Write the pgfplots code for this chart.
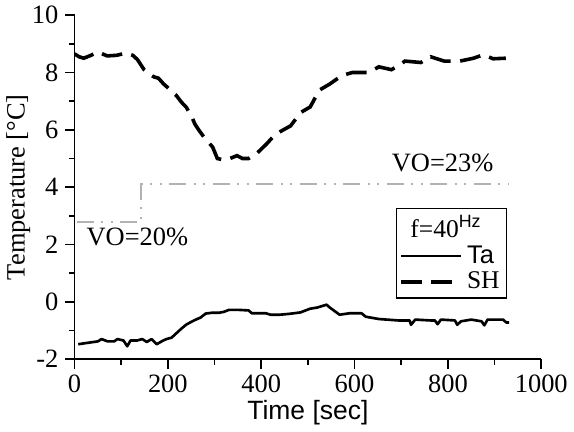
\documentclass[border=0pt]{standalone}
\usepackage{fontspec}
\setmainfont{Liberation Serif}
\setsansfont{Liberation Sans}
\usepackage{pgfplots}
\pgfplotsset{compat=1.18}

\begin{document}
\begin{tikzpicture}
\begin{axis}[
    width=247pt, height=182pt, scale only axis,
    xmin=0, xmax=1000, ymin=-2, ymax=10,
    axis lines=left,
    axis line style={-, line width=0.9pt},
    xtick={0,200,...,1000},
    ytick={-2,0,...,10},
    minor x tick num=1, minor y tick num=1,
    tick align=outside,
    major tick length=5pt, minor tick length=3pt,
    every tick/.style={black, line width=0.9pt},
    ticklabel style={font=\fontsize{14}{16}\selectfont},
    /pgf/number format/assume math mode=true,
    /pgf/number format/1000 sep={},
    xlabel={\sffamily Time [sec]},
    ylabel={Temperature [°C]},
    xlabel style={font=\fontsize{14}{16}\selectfont, yshift=3pt},
    ylabel style={font=\fontsize{14}{16}\selectfont, yshift=-6pt},
    legend cell align=left,
    legend style={at={(0.688,0.44)}, anchor=north west,
        draw=black, line width=0.8pt, inner sep=1.5pt, row sep=-1pt,
        font=\fontsize{13.5}{14}\selectfont},
    legend image code/.code={\draw[#1] (0pt,0pt) -- (32pt,0pt);},
]
\addlegendimage{empty legend}
\addlegendentry{\hspace{-30pt}f=40\textsuperscript{\sffamily Hz}}

\addplot[black, line width=1.4pt, line join=round] coordinates {
(8,-1.48)(20,-1.45)(37,-1.41)(50,-1.38)(58,-1.3)(71,-1.38)(85,-1.38)(92,-1.3)
(105,-1.35)(113,-1.55)(120,-1.35)(134,-1.35)(145,-1.3)(155,-1.4)(165,-1.3)
(176,-1.48)(190,-1.35)(197,-1.3)(208,-1.25)(218,-1.1)(228,-0.95)(239,-0.8)
(250,-0.7)(260,-0.62)(270,-0.55)(281,-0.41)(295,-0.38)(310,-0.38)(320,-0.35)
(331,-0.28)(350,-0.28)(373,-0.3)(380,-0.4)(410,-0.4)(420,-0.45)(440,-0.45)
(460,-0.42)(484,-0.37)(495,-0.3)(505,-0.24)(520,-0.2)(540,-0.1)(547,-0.2)
(568,-0.45)(589,-0.4)(615,-0.4)(624,-0.52)(652,-0.6)(694,-0.65)(718,-0.65)
(721,-0.8)(730,-0.62)(763,-0.65)(772,-0.65)(778,-0.78)(785,-0.62)(815,-0.65)
(820,-0.8)(828,-0.68)(850,-0.62)(872,-0.68)(878,-0.82)(885,-0.62)(918,-0.62)
(925,-0.72)(931,-0.72)
};
\addlegendentry{\sffamily Ta}

\addplot[black, line width=1.9pt, dash pattern=on 11pt off 5pt] coordinates {
(0,8.65)(10,8.55)(20,8.5)(35,8.6)(50,8.72)(70,8.58)(90,8.6)(110,8.68)(125,8.6)
(135,8.45)(149,8.1)(160,7.95)(170,7.85)(180,7.8)(191,7.6)(205,7.4)(218,7.2)
(230,6.95)(239,6.8)(250,6.5)(258,6.2)(266,6.0)(275,5.8)(285,5.6)(296,5.4)
(306,5.0)(320,4.95)(333,5.0)(348,5.1)(360,5.0)(373,5.0)(390,5.17)(411,5.5)
(425,5.75)(442,5.95)(463,6.14)(475,6.4)(484,6.6)(505,6.8)(515,7.1)(526,7.4)
(547,7.6)(560,7.75)(574,7.9)(595,8.0)(631,8.0)(652,8.2)(679,8.1)(695,8.25)
(708,8.4)(742,8.35)(763,8.55)(792,8.4)(826,8.4)(855,8.5)(876,8.62)(897,8.48)
(924,8.5)
};
\addlegendentry{SH}

\addplot[gray!60, line width=1pt,
    dash pattern=on 9pt off 4pt on 1pt off 4pt on 1pt off 4pt, forget plot]
    coordinates {(5,2.78)(143,2.78)(143,4.1)(930,4.1)};

\node[anchor=west, inner sep=0pt, font=\fontsize{14}{16}\selectfont]
    at (axis cs:25,2.25) {VO=20\%};
\node[anchor=west, inner sep=0pt, font=\fontsize{14}{16}\selectfont]
    at (axis cs:679,4.83) {VO=23\%};
\end{axis}
\end{tikzpicture}
\end{document}
